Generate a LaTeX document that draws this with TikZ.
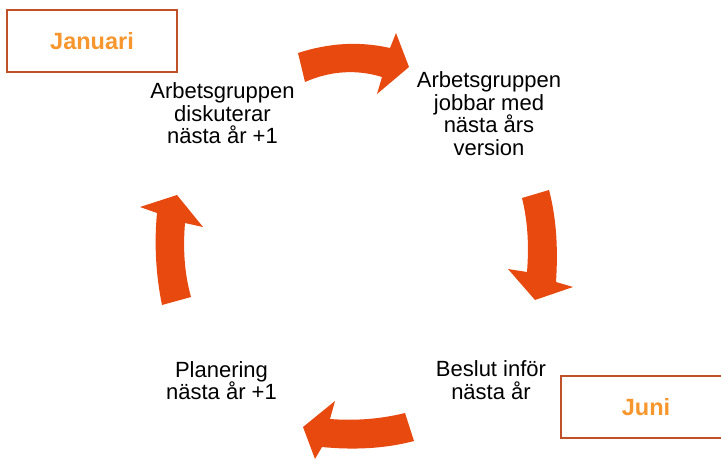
\documentclass[tikz,border=0pt]{standalone}
\usepackage{fontspec}
\setmainfont{Liberation Sans}
\definecolor{arrowred}{HTML}{E8490F}
\definecolor{boxline}{RGB}{192,80,40}
\definecolor{monthorange}{HTML}{F7962D}
\tikzset{
  cyclearrow/.style={fill=arrowred, draw=none},
  monthbox/.style={draw=boxline, line width=1.4pt, fill=white, minimum width=170pt, minimum height=62pt, inner sep=0pt,
    text=monthorange, font=\fontsize{23.5}{26}\selectfont\bfseries},
  steptext/.style={align=center, inner sep=0pt, text=black, font=\fontsize{22}{22.5}\selectfont}
}
\begin{document}
\begin{tikzpicture}[x=1pt,y=-1pt]
\useasboundingbox (0,0) rectangle (721,460);
\clip (0,0) rectangle (721,460);
\fill[white] (0,0) rectangle (721,460);

% month boxes
\node[monthbox] (jan) at (92,41) {Januari};
\node[monthbox] (jun) at (646,407) {Juni};

% step texts
\node[steptext] (s1) at (222.5,113.5) {Arbetsgruppen\\diskuterar\\nästa år +1};
\node[steptext] (s2) at (489,113.5) {Arbetsgruppen\\jobbar med\\nästa års\\version};
\node[steptext] (s3) at (491,380) {Beslut inför\\nästa år};
\node[steptext] (s4) at (221.5,380.5) {Planering\\nästa år +1};

% top arrow (left to right)
\fill[cyclearrow] (298,53) .. controls (329,43) and (359,41) .. (390,48) -- (396,33) -- (409,67) -- (377,94) -- (382,77)
  .. controls (356,69) and (330,71) .. (305,82) -- cycle;
% right arrow (downwards)
\fill[cyclearrow] (522,198) -- (549,190) .. controls (557,220) and (558,252) .. (556,282) -- (573,287) -- (535,300)
  -- (508,269) -- (527,272) .. controls (529,247) and (528,222) .. (522,198) -- cycle;
% bottom arrow (right to left)
\fill[cyclearrow] (405,413) -- (414,441) .. controls (384,449) and (352,450) .. (322,447) -- (315,459) -- (303,427)
  -- (335,401) -- (330,419) .. controls (355,421) and (381,419) .. (405,413) -- cycle;
% left arrow (upwards)
\fill[cyclearrow] (162,305) -- (191,297) .. controls (184,272) and (183,247) .. (185,223) -- (203,227) -- (177,195)
  -- (140,207) -- (157,213) .. controls (154,244) and (156,276) .. (162,305) -- cycle;
\end{tikzpicture}
\end{document}
